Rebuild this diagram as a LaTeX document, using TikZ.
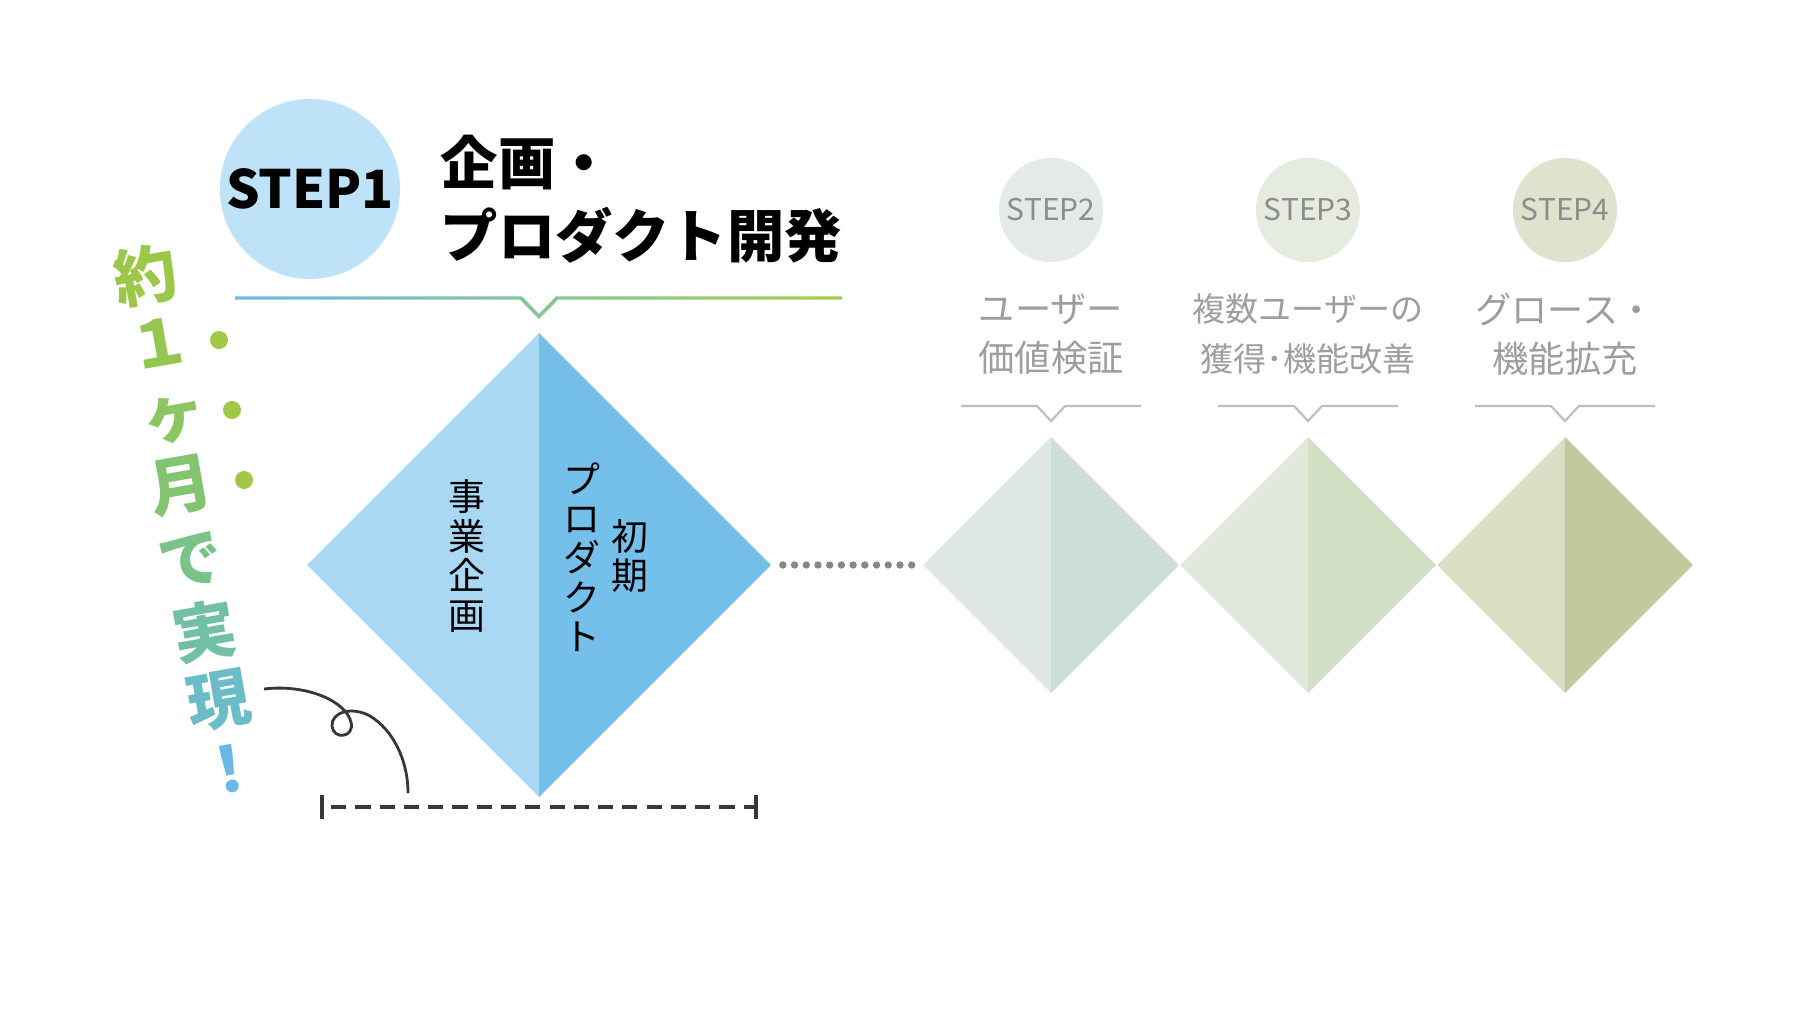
\documentclass[tikz,border=0pt]{standalone}
\usepackage{fontspec}
\setmainfont{Noto Sans CJK JP}
\usetikzlibrary{shapes.geometric,positioning}
\definecolor{bleuEtape}{RGB}{190,226,247}
\definecolor{bleuClair}{RGB}{168,216,243}
\definecolor{bleuFonce}{RGB}{116,192,234}
\definecolor{ligneBleu}{RGB}{108,187,234}
\definecolor{ligneVert}{RGB}{165,205,75}
\definecolor{grisTexte}{RGB}{158,158,158}
\definecolor{grisEtape}{RGB}{140,140,140}
\definecolor{grisLigne}{RGB}{190,190,190}
\definecolor{grisPoint}{RGB}{135,135,135}
\definecolor{noirTrait}{RGB}{55,55,55}
\definecolor{vertPoint}{RGB}{160,200,70}
\definecolor{etapeDeux}{RGB}{227,234,231}
\definecolor{etapeTrois}{RGB}{229,235,223}
\definecolor{etapeQuatre}{RGB}{221,227,204}
\definecolor{losDeuxG}{RGB}{224,232,228}
\definecolor{losDeuxD}{RGB}{205,222,214}
\definecolor{losTroisG}{RGB}{226,233,220}
\definecolor{losTroisD}{RGB}{209,223,196}
\definecolor{losQuatreG}{RGB}{217,223,197}
\definecolor{losQuatreD}{RGB}{192,202,156}
\definecolor{vertA}{RGB}{156,200,74}
\definecolor{vertB}{RGB}{148,199,82}
\definecolor{vertC}{RGB}{140,198,96}
\definecolor{vertD}{RGB}{130,196,112}
\definecolor{vertE}{RGB}{121,194,136}
\definecolor{vertF}{RGB}{112,191,166}
\definecolor{vertG}{RGB}{106,188,198}
\definecolor{vertH}{RGB}{106,184,230}

\begin{document}
\begin{tikzpicture}[x=0.01cm, y=-0.01cm,
  etape/.style={circle, inner sep=0pt, minimum size=1.04cm, text=grisEtape,
    font=\fontsize{8.5}{10}\selectfont},
  losange/.style 2 args={diamond, aspect=1, inner sep=0pt, minimum size=2.56cm, fill=#1,
    path picture={\fill[#2] (path picture bounding box.north) rectangle (path picture bounding box.south east);}},
  titreEtape/.style={align=center, text=grisTexte, font=\fontsize{10.3}{14}\selectfont},
  encoche/.style={grisLigne, line width=0.6pt},
  vertical/.style={align=center, inner sep=0pt, font=\fontsize{10.5}{11.2}\selectfont},
  motVert/.style={rotate=10, inner sep=0pt, text height=0.8em, text depth=0.06em,
    font=\fontsize{18}{18}\selectfont\bfseries}]

\useasboundingbox (0,0) rectangle (1816,1012);
\fill[white] (0,0) rectangle (1816,1012);

% etape 1
\node[circle, fill=bleuEtape, minimum size=1.8cm, inner sep=0pt,
  font=\fontsize{15}{18}\selectfont\bfseries] (e1) at (310,189) {STEP1};
\node[anchor=west, align=left, inner sep=0pt,
  font=\fontsize{16.3}{20.8}\selectfont\bfseries] (titre) at (440,199) {企画・\\プロダクト開発};

\shade[left color=ligneBleu, right color=ligneVert]
  (235,296.3) -- (522,296.3) -- (539,314) -- (556,296.3) -- (842,296.3) -- (842,299.7)
  -- (558,299.7) -- (539,319) -- (520,299.7) -- (235,299.7) -- cycle;

\node[losange={bleuClair}{bleuFonce}, minimum size=4.64cm] (d1) at (539,565) {};
\node[vertical] (tx1) at (467,556) {事\\業\\企\\画};
\node[vertical] (tx2) at (582,557) {プ\\ロ\\ダ\\ク\\ト};
\node[vertical] (tx3) at (630,556) {初\\期};

% etapes 2 a 4
\node[etape, fill=etapeDeux] (e2) at (1051,210) {STEP2};
\node[etape, fill=etapeTrois] (e3) at (1308,210) {STEP3};
\node[etape, fill=etapeQuatre] (e4) at (1565,210) {STEP4};

\node[titreEtape] (t2) at (1051,334) {ユーザー\\価値検証};
\node[titreEtape, font=\fontsize{9.4}{14}\selectfont] (t3) at (1308,334) {複数ユーザーの\\獲得･機能改善};
\node[titreEtape] (t4) at (1565,334) {グロース・\\機能拡充};

\draw[encoche] (961,406) -- (1037,406) -- (1051,421) -- (1065,406) -- (1141,406);
\draw[encoche] (1218,406) -- (1294,406) -- (1308,421) -- (1322,406) -- (1398,406);
\draw[encoche] (1475,406) -- (1551,406) -- (1565,421) -- (1579,406) -- (1655,406);

\node[losange={losDeuxG}{losDeuxD}] (d2) at (1051,565) {};
\node[losange={losTroisG}{losTroisD}] (d3) at (1308,565) {};
\node[losange={losQuatreG}{losQuatreD}] (d4) at (1565,565) {};

\draw[grisPoint, line width=2.1pt, line cap=round, dash pattern=on 0pt off 3.33pt,
  shorten <=0.11cm, shorten >=0.09cm] (d1.east) -- (d2.west);

% texte vertical
\node[motVert, text=vertA] (m1) at (147,286) {約};
\node[motVert, text=vertB] (m2) at (161,353) {１};
\node[motVert, text=vertC] (m3) at (175,423) {ヶ};
\node[motVert, text=vertD] (m4) at (182,495) {月};
\node[motVert, text=vertE] (m5) at (192,570) {で};
\node[motVert, text=vertF] (m6) at (206,642) {実};
\node[motVert, text=vertG] (m7) at (220,710) {現};
\node[motVert, text=vertH] (m8) at (231,779) {！};

\fill[vertPoint] (219,340) circle (9);
\fill[vertPoint] (232,410) circle (9);
\fill[vertPoint] (244,480) circle (9);

% boucle et duree
\draw[noirTrait, line width=0.8pt] (264,689) .. controls (305,684) and (345,700) .. (351,722)
  .. controls (355,738) and (333,740) .. (332,726)
  .. controls (331,712) and (352,706) .. (370,716)
  .. controls (393,730) and (408,760) .. (408,793);

\coordinate (bg) at (322,807);
\coordinate (bd) at (756,807);
\draw[noirTrait, line width=1.2pt] ([yshift=0.12cm]bg) -- ([yshift=-0.12cm]bg);
\draw[noirTrait, line width=1.2pt] ([yshift=0.12cm]bd) -- ([yshift=-0.12cm]bd);
\draw[noirTrait, line width=0.9pt, dash pattern=on 4.3pt off 2.6pt, shorten <=2.6pt] (bg) -- (bd);

\end{tikzpicture}
\end{document}
